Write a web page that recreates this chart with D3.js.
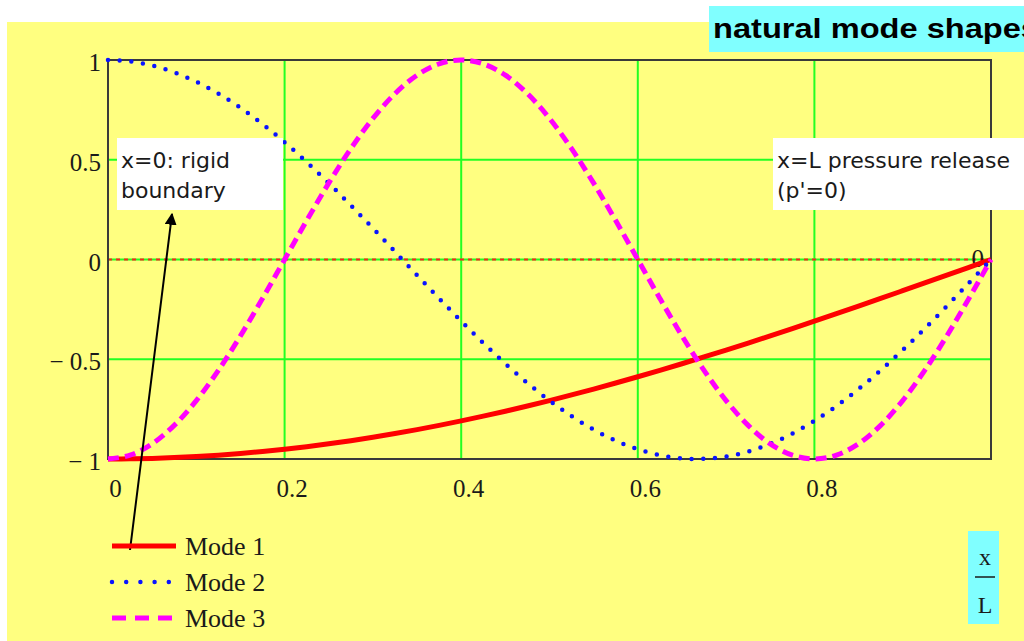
<!DOCTYPE html>
<html>
<head>
<meta charset="utf-8">
<script src="https://cdn.jsdelivr.net/npm/d3@7"></script>
<style>
  html, body { margin: 0; padding: 0; background: #ffffff; }
  svg { display: block; }
</style>
</head>
<body>
<script>
// ---- data ----
const xValues = [0, 0.025, 0.05, 0.075, 0.1, 0.125, 0.15, 0.175, 0.2, 0.225, 0.25, 0.275, 0.3, 0.325, 0.35, 0.375, 0.4, 0.425, 0.45, 0.475, 0.5, 0.525, 0.55, 0.575, 0.6, 0.625, 0.65, 0.675, 0.7, 0.725, 0.75, 0.775, 0.8, 0.825, 0.85, 0.875, 0.9, 0.925, 0.95, 0.975, 1.0];
const mode1 = [-1, -0.9992, -0.9969, -0.9931, -0.9877, -0.9808, -0.9724, -0.9625, -0.9511, -0.9382, -0.9239, -0.9081, -0.8910, -0.8725, -0.8526, -0.8315, -0.8090, -0.7853, -0.7604, -0.7343, -0.7071, -0.6788, -0.6494, -0.6191, -0.5878, -0.5556, -0.5225, -0.4886, -0.4540, -0.4187, -0.3827, -0.3461, -0.3090, -0.2714, -0.2334, -0.1951, -0.1564, -0.1175, -0.0785, -0.0393, 0];
const mode2 = [1, 0.9931, 0.9724, 0.9382, 0.8910, 0.8315, 0.7604, 0.6788, 0.5878, 0.4886, 0.3827, 0.2714, 0.1564, 0.0393, -0.0785, -0.1951, -0.3090, -0.4187, -0.5225, -0.6191, -0.7071, -0.7853, -0.8526, -0.9081, -0.9511, -0.9808, -0.9969, -0.9992, -0.9877, -0.9625, -0.9239, -0.8725, -0.8090, -0.7343, -0.6494, -0.5556, -0.4540, -0.3461, -0.2334, -0.1175, 0];
const mode3 = [-1, -0.9808, -0.9239, -0.8315, -0.7071, -0.5556, -0.3827, -0.1951, 0, 0.1951, 0.3827, 0.5556, 0.7071, 0.8315, 0.9239, 0.9808, 1, 0.9808, 0.9239, 0.8315, 0.7071, 0.5556, 0.3827, 0.1951, 0, -0.1951, -0.3827, -0.5556, -0.7071, -0.8315, -0.9239, -0.9808, -1, -0.9808, -0.9239, -0.8315, -0.7071, -0.5556, -0.3827, -0.1951, 0];
const seriesNames = ["Mode 1", "Mode 2", "Mode 3"];
const xTicks = [0, 0.2, 0.4, 0.6, 0.8];
const xTickLabels = ["0", "0.2", "0.4", "0.6", "0.8"];
const yTicks = [1, 0.5, 0, -0.5, -1];
const yTickLabels = ["1", "0.5", "0", "\u2212 0.5", "\u2212 1"];
const xGrid = [0.2, 0.4, 0.6, 0.8];
const yGrid = [0.5, 0, -0.5];
const titleText = "natural mode shapes";
const noteLeft = ["x=0: rigid", "boundary"];
const noteRight = ["x=L pressure release", "(p'=0)"];

// ---- layout ----
const W = 1024, H = 641;
const plot = { left: 108, right: 991, top: 60, bottom: 459 };
const yellow = "#ffff80", cyan = "#80ffff";

const svg = d3.select("body").append("svg").attr("width", W).attr("height", H);

// backgrounds
svg.append("rect").attr("x", 7).attr("y", 22).attr("width", W - 7).attr("height", H - 22).attr("fill", yellow);

const x = d3.scaleLinear().domain([0, 1]).range([plot.left, plot.right]);
const y = d3.scaleLinear().domain([-1, 1]).range([plot.bottom, plot.top]);

// grid
const grid = svg.append("g");
grid.selectAll("line.v").data(xGrid).enter().append("line")
  .attr("x1", d => x(d)).attr("x2", d => x(d)).attr("y1", plot.top).attr("y2", plot.bottom)
  .attr("stroke", "#22ff22").attr("stroke-width", 2);
grid.selectAll("line.h").data(yGrid).enter().append("line")
  .attr("x1", plot.left).attr("x2", plot.right).attr("y1", d => y(d)).attr("y2", d => y(d))
  .attr("stroke", "#22ff22").attr("stroke-width", 2);
// zero marker line (red dashed)
svg.append("line").attr("x1", plot.left).attr("x2", plot.right).attr("y1", y(0)).attr("y2", y(0))
  .attr("stroke", "#ff2020").attr("stroke-width", 2).attr("stroke-dasharray", "4 4");

// frame
svg.append("rect").attr("x", plot.left).attr("y", plot.top)
  .attr("width", plot.right - plot.left).attr("height", plot.bottom - plot.top)
  .attr("fill", "none").attr("stroke", "#3a3a3a").attr("stroke-width", 2);

// axes (labels only)
const serif = "'Liberation Serif', 'Times New Roman', serif";
const yAxis = d3.axisLeft(y).tickValues(yTicks).tickSize(0).tickPadding(7)
  .tickFormat((d, i) => yTickLabels[i]);
const gy = svg.append("g").attr("transform", `translate(${plot.left},0)`).call(yAxis);
gy.select(".domain").remove();
gy.selectAll("text").attr("font-family", serif).attr("font-size", 25).attr("fill", "#1a1a1a").attr("dy", "0.42em");

const xAxis = d3.axisBottom(x).tickValues(xTicks).tickSize(0).tickPadding(20)
  .tickFormat((d, i) => xTickLabels[i]);
const gx = svg.append("g").attr("transform", `translate(0,${plot.bottom})`).call(xAxis);
gx.select(".domain").remove();
gx.selectAll("text").attr("font-family", serif).attr("font-size", 25).attr("fill", "#1a1a1a").attr("dx", "0.28em");

// x-axis marker value "0" at right end of zero line
svg.append("text").attr("x", x(0.985)).attr("y", y(0) + 7).attr("text-anchor", "middle")
  .attr("font-family", serif).attr("font-size", 25).attr("fill", "#1a1a1a").text("0");

// curves
const line = d3.line().curve(d3.curveCatmullRom.alpha(0.5)).x(d => x(d[0])).y(d => y(d[1]));
const styles = [
  { color: "#ff0000", width: 5, dash: null, cap: "butt" },
  { color: "#0a14ff", width: 4.5, dash: "0 11.7", cap: "round" },
  { color: "#ff00ff", width: 5, dash: "11 6", cap: "butt" }
];
const legendDash = [null, "0 14.2", "14 9"];
[mode1, mode2, mode3].forEach((vals, i) => {
  const pts = xValues.map((xv, j) => [xv, vals[j]]);
  const p = svg.append("path").datum(pts).attr("d", line)
    .attr("fill", "none").attr("stroke", styles[i].color).attr("stroke-width", styles[i].width)
    .attr("stroke-linecap", styles[i].cap).attr("stroke-linejoin", "round");
  if (styles[i].dash) p.attr("stroke-dasharray", styles[i].dash);
});

// annotations
const sans = "'DejaVu Sans', Verdana, sans-serif";
function note(x0, y0, w, h, lines) {
  svg.append("rect").attr("x", x0).attr("y", y0).attr("width", w).attr("height", h).attr("fill", "#ffffff");
  lines.forEach((t, i) => {
    svg.append("text").attr("x", x0 + 4).attr("y", y0 + 30 + i * 30)
      .attr("font-family", sans).attr("font-size", 22).attr("fill", "#1a1a1a").text(t);
  });
}
note(117, 138, 166, 72, noteLeft);
note(773, 138, 251, 72, noteRight);

// arrow
svg.append("defs").append("marker").attr("id", "ah").attr("viewBox", "0 0 10 10")
  .attr("refX", 9).attr("refY", 5).attr("markerWidth", 6).attr("markerHeight", 6)
  .attr("markerUnits", "strokeWidth").attr("orient", "auto")
  .append("path").attr("d", "M0,0 L10,5 L0,10 z").attr("fill", "#000");
svg.append("line").attr("x1", 130).attr("y1", 550).attr("x2", 172).attr("y2", 214)
  .attr("stroke", "#000").attr("stroke-width", 2).attr("marker-end", "url(#ah)");

// title
svg.append("rect").attr("x", 709).attr("y", 6).attr("width", W - 709).attr("height", 46).attr("fill", cyan);
svg.append("text").attr("x", 713).attr("y", 38).attr("font-family", "'Liberation Sans', Arial, sans-serif")
  .attr("font-weight", "bold").attr("font-size", 27).attr("fill", "#000")
  .attr("textLength", 326).attr("lengthAdjust", "spacingAndGlyphs").text(titleText);

// legend
const legY = [546, 582, 618];
seriesNames.forEach((name, i) => {
  const l = svg.append("line").attr("x1", 112).attr("x2", 176).attr("y1", legY[i]).attr("y2", legY[i])
    .attr("stroke", styles[i].color).attr("stroke-width", styles[i].width)
    .attr("stroke-linecap", styles[i].cap);
  if (legendDash[i]) l.attr("stroke-dasharray", legendDash[i]);
  svg.append("text").attr("x", 185).attr("y", legY[i] + 9).attr("font-family", serif)
    .attr("font-size", 26).attr("fill", "#1a1a1a").text(name);
});

// axis title x/L
svg.append("rect").attr("x", 968).attr("y", 531).attr("width", 31).attr("height", 93).attr("fill", cyan);
svg.append("text").attr("x", 985).attr("y", 565).attr("text-anchor", "middle").attr("font-family", serif)
  .attr("font-size", 24).attr("fill", "#1a1a1a").text("x");
svg.append("line").attr("x1", 975).attr("x2", 995).attr("y1", 577).attr("y2", 577).attr("stroke", "#1a1a1a").attr("stroke-width", 1.5);
svg.append("text").attr("x", 985).attr("y", 613).attr("text-anchor", "middle").attr("font-family", serif)
  .attr("font-size", 24).attr("fill", "#1a1a1a").text("L");
</script>
</body>
</html>
